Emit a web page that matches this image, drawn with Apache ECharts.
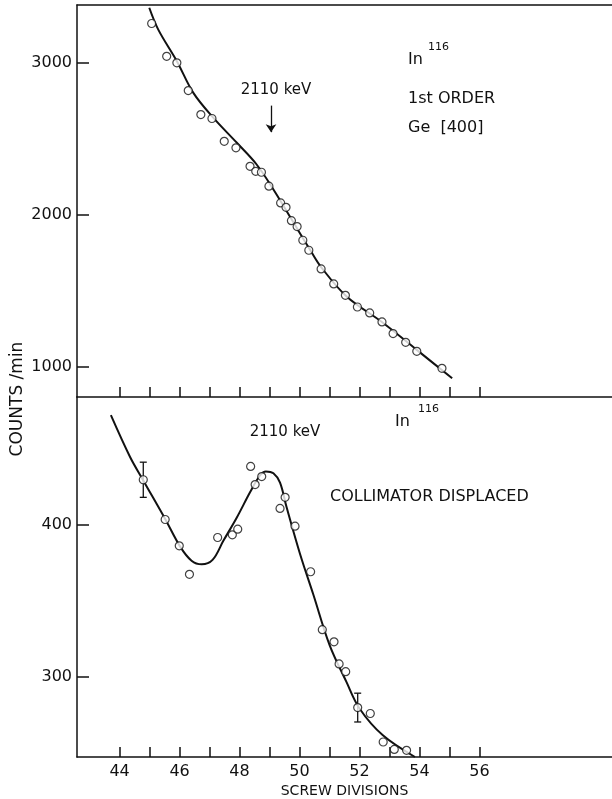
<!DOCTYPE html>
<html>
<head>
<meta charset="utf-8">
<script src="https://cdn.jsdelivr.net/npm/echarts@6/dist/echarts.min.js"></script>
<style>
    html, body { margin: 0; padding: 0; background: #fff; }
    #chart { width: 612px; height: 799px; }
</style>
</head>
<body>
<div id="chart"></div>
<script>
// upper panel: 1st order, Ge [400]
const topX = [45.07, 45.57, 45.91, 46.29, 46.71, 47.08, 47.49, 47.88, 48.35, 48.54, 48.73, 48.98, 49.37, 49.55,
    49.73, 49.92, 50.11, 50.31, 50.72, 51.14, 51.53, 51.93, 52.34, 52.75, 53.12, 53.54, 53.91, 54.75];
const topCounts = [3261, 3045, 3002, 2819, 2661, 2635, 2485, 2442, 2320, 2287, 2281, 2189, 2079, 2050,
    1962, 1923, 1833, 1767, 1644, 1545, 1470, 1393, 1354, 1295, 1218, 1160, 1101, 989];
const topFitX = [44.99, 45.29, 45.91, 46.46, 47.13, 47.91, 48.57, 49.13, 49.74, 50.35, 50.74,
    51.57, 52.79, 53.9, 55.09];
const topFitY = [3365, 3221, 3013, 2804, 2639, 2475, 2332, 2167, 1969, 1771, 1651,
    1463, 1288, 1112, 923];

// lower panel: collimator displaced
const botX = [44.79, 45.52, 45.99, 46.33, 47.27, 47.76, 47.94, 48.37, 48.52, 48.74, 49.35, 49.52, 49.85,
    50.37, 50.76, 51.15, 51.32, 51.54, 51.94, 52.36, 52.79, 53.16, 53.57];
const botCounts = [429.9, 403.7, 386.3, 367.5, 391.8, 393.6, 397.3, 438.7, 426.7, 432, 411, 418.3, 399.3,
    369.2, 331, 323, 308.4, 303.3, 279.6, 275.7, 256.9, 252, 251.4];
const botFitX = [43.71, 44.35, 44.79, 45.52, 46.02, 46.4, 46.74, 47.1, 47.46, 47.91, 48.35, 48.68, 48.88,
    49.13, 49.35, 49.57, 50.02, 50.46, 51.0, 51.56, 52.0, 52.78, 53.85];
const botFitY = [472.5, 444.9, 429.4, 404, 385.8, 376.5, 374.1, 377, 389.6, 405, 421.6, 432.7, 435.4,
    434.2, 428, 411.7, 380.8, 354.2, 321, 296.7, 279, 261.3, 247];
// error bars: x, low, high
const errX = [44.79, 51.94];
const errLow = [418.3, 270.1];
const errHigh = [441.5, 289.1];

// ticks
const xTicks = [44, 45, 46, 47, 48, 49, 50, 51, 52, 53, 54, 55, 56];
const xLabels = [44, 46, 48, 50, 52, 54, 56];
const topYTicks = [1000, 2000, 3000];
const botYTicks = [300, 400];
const arrowX = 49.05;
const arrowY = [2720, 2545];

const ink = '#111';
const font = 'DejaVu Sans';

const zip = (xs, ys) => xs.map((x, i) => [x, ys[i]]);

const xAxisBase = (grid, showLabels) => ({
    type: 'value',
    gridIndex: grid,
    min: 42.58,
    max: 60.42,
    axisLine: { show: true, onZero: false, lineStyle: { color: ink, width: 1.5 } },
    axisTick: { show: true, inside: true, length: 10, customValues: xTicks, lineStyle: { color: ink, width: 1.5 } },
    axisLabel: {
        show: showLabels,
        customValues: xLabels,
        formatter: (v) => String(v),
        color: ink,
        fontFamily: font,
        fontSize: 16,
        margin: 7,
    },
    splitLine: { show: false },
});

const yAxisBase = (grid, min, max, ticks) => ({
    type: 'value',
    gridIndex: grid,
    min: min,
    max: max,
    axisLine: { show: true, onZero: false, lineStyle: { color: ink, width: 1.5 } },
    axisTick: { show: true, inside: true, length: 12, customValues: ticks, lineStyle: { color: ink, width: 1.5 } },
    axisLabel: {
        customValues: ticks,
        formatter: (v) => String(v), // no thousands separator
        color: ink,
        fontFamily: font,
        fontSize: 16,
        margin: 5,
    },
    splitLine: { show: false },
});

const dotStyle = { color: '#fff', borderColor: ink, borderWidth: 1.2 };
const txt = (x, y, text, size, extra) => ({
    type: 'text',
    x: x,
    y: y,
    style: Object.assign({ text: text, fill: ink, font: size + 'px "DejaVu Sans"', verticalAlign: 'middle' }, extra || {}),
});

const option = {
    animation: false,
    backgroundColor: '#fff',
    grid: [
        { left: 77, right: 0, top: 5, height: 392 },
        { left: 77, right: 0, top: 397, height: 360 },
    ],
    xAxis: [
        xAxisBase(0, false),
        // top border of upper panel
        {
            type: 'value', gridIndex: 0, position: 'top', min: 42.58, max: 60.42,
            axisLine: { show: true, onZero: false, lineStyle: { color: ink, width: 1.5 } },
            axisTick: { show: false }, axisLabel: { show: false }, splitLine: { show: false },
        },
        Object.assign(xAxisBase(1, true), {
            name: 'SCREW DIVISIONS',
            nameLocation: 'middle',
            nameGap: 27,
            nameTextStyle: { color: ink, fontFamily: font, fontSize: 14 },
        }),
    ],
    yAxis: [
        yAxisBase(0, 800, 3383, topYTicks),
        yAxisBase(1, 247, 484.5, botYTicks),
    ],
    series: [
        {
            type: 'line',
            xAxisIndex: 0,
            yAxisIndex: 0,
            data: zip(topFitX, topFitY),
            smooth: 0.35,
            showSymbol: false,
            lineStyle: { color: ink, width: 2 },
            z: 2,
            markLine: {
                silent: true,
                symbol: ['none', 'arrow'],
                symbolSize: 8,
                label: { show: false },
                lineStyle: { color: ink, width: 1.3, type: 'solid' },
                data: [[{ coord: [arrowX, arrowY[0]] }, { coord: [arrowX, arrowY[1]] }]],
            },
        },
        {
            type: 'scatter',
            xAxisIndex: 0,
            yAxisIndex: 0,
            data: zip(topX, topCounts),
            symbol: 'circle',
            symbolSize: 8,
            itemStyle: dotStyle,
            z: 3,
        },
        {
            type: 'line',
            xAxisIndex: 2,
            yAxisIndex: 1,
            data: zip(botFitX, botFitY),
            smooth: 0.35,
            showSymbol: false,
            lineStyle: { color: ink, width: 2 },
            z: 2,
        },
        {
            type: 'custom',
            xAxisIndex: 2,
            yAxisIndex: 1,
            data: errX.map((x, i) => [x, errLow[i], errHigh[i]]),
            renderItem: (params, api) => {
                const lo = api.coord([api.value(0), api.value(1)]);
                const hi = api.coord([api.value(0), api.value(2)]);
                const w = 3.5;
                const st = { stroke: ink, lineWidth: 1.3 };
                return {
                    type: 'group',
                    children: [
                        { type: 'line', shape: { x1: lo[0], y1: lo[1], x2: hi[0], y2: hi[1] }, style: st },
                        { type: 'line', shape: { x1: lo[0] - w, y1: lo[1], x2: lo[0] + w, y2: lo[1] }, style: st },
                        { type: 'line', shape: { x1: hi[0] - w, y1: hi[1], x2: hi[0] + w, y2: hi[1] }, style: st },
                    ],
                };
            },
            z: 2,
        },
        {
            type: 'scatter',
            xAxisIndex: 2,
            yAxisIndex: 1,
            data: zip(botX, botCounts),
            symbol: 'circle',
            symbolSize: 8,
            itemStyle: dotStyle,
            z: 3,
        },
    ],
    graphic: [
        txt(276, 90, '2110 keV', 15, { align: 'center' }),
        txt(408, 60, 'In', 16),
        txt(428, 47, '116', 11),
        txt(408, 99, '1st ORDER', 16),
        txt(408, 128, 'Ge  [400]', 16),
        txt(285, 432, '2110 keV', 15, { align: 'center' }),
        txt(395, 422, 'In', 16),
        txt(418, 409, '116', 11),
        txt(330, 497, 'COLLIMATOR DISPLACED', 16),
        Object.assign(txt(18, 399, 'COUNTS /min', 17, { align: 'center' }), { rotation: Math.PI / 2 }),
    ],
};

// draw
const myChart = echarts.init(document.getElementById('chart'), null, { renderer: 'canvas' });
myChart.setOption(option);
</script>
</body>
</html>
